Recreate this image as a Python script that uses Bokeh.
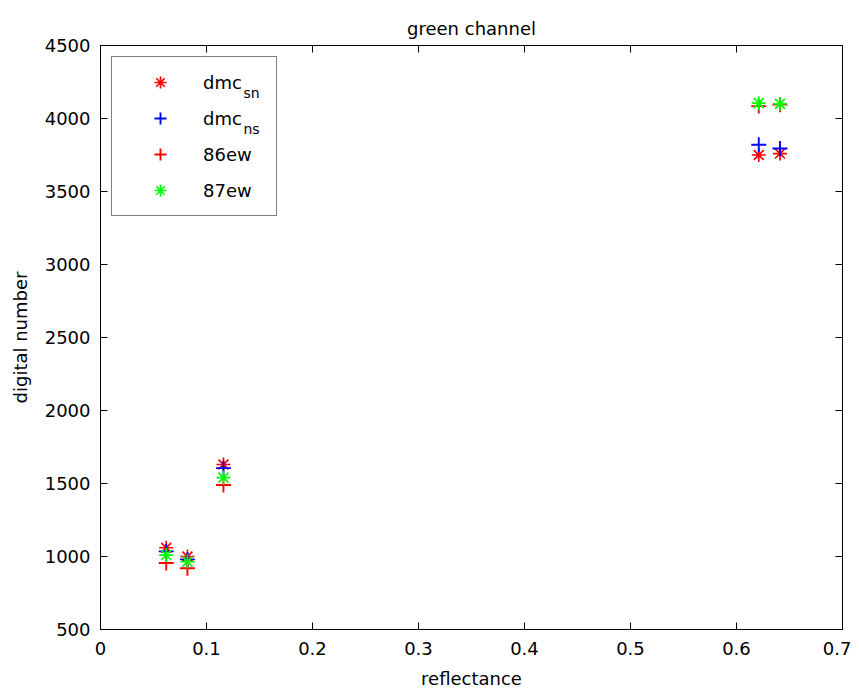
from bokeh.plotting import figure
from bokeh.models import FixedTicker, LinearAxis, Legend, LegendItem, Label, Range1d
from bokeh.embed import file_html
from bokeh.resources import INLINE

# data
reflectance = [0.062, 0.082, 0.116, 0.621, 0.641]
dmc_sn = [1060, 1000, 1630, 3750, 3760]
dmc_ns = [1035, 980, 1605, 3820, 3795]
ew86 = [955, 920, 1490, 4085, 4095]
ew87 = [1010, 965, 1540, 4105, 4100]

x_ticks = [0, 0.1, 0.2, 0.3, 0.4, 0.5, 0.6, 0.7]
y_ticks = [500, 1000, 1500, 2000, 2500, 3000, 3500, 4000, 4500]

FONT = "DejaVu Sans"

p = figure(width=851, height=691, output_backend="svg", toolbar_location=None,
           x_range=Range1d(0, 0.7), y_range=Range1d(500, 4500),
           min_border_left=100, min_border_right=9, min_border_top=45, min_border_bottom=61,
           title="green channel", x_axis_label="reflectance", y_axis_label="digital number")

p.title.align = "center"
p.title.vertical_align = "top"
p.title.text_font = FONT
p.title.text_font_size = "18px"
p.title.text_font_style = "normal"
p.title.text_color = "black"
p.title.standoff = 10

p.grid.visible = False
p.outline_line_color = "black"
p.outline_line_width = 1
p.background_fill_color = "white"
p.border_fill_color = "white"

for ax in (p.xaxis[0], p.yaxis[0]):
    ax.axis_line_color = "black"
    ax.major_tick_line_color = "black"
    ax.major_tick_in = 7
    ax.major_tick_out = 0
    ax.minor_tick_line_color = None
    ax.major_label_text_font = FONT
    ax.major_label_text_font_size = "18px"
    ax.major_label_text_color = "black"
    ax.axis_label_text_font = FONT
    ax.axis_label_text_font_size = "18px"
    ax.axis_label_text_font_style = "normal"
    ax.axis_label_text_color = "black"

p.xaxis[0].major_label_standoff = 12
p.xaxis[0].axis_label_standoff = 10
p.yaxis[0].major_label_standoff = 10
p.yaxis[0].axis_label_standoff = 11

p.xaxis[0].ticker = FixedTicker(ticks=x_ticks)
p.yaxis[0].ticker = FixedTicker(ticks=y_ticks)

top_ax = LinearAxis(ticker=FixedTicker(ticks=x_ticks), major_label_text_font_size="0px",
                    major_tick_in=7, major_tick_out=0, minor_tick_line_color=None,
                    major_label_standoff=0, axis_label_standoff=0,
                    axis_line_color="black", major_tick_line_color="black")
right_ax = LinearAxis(ticker=FixedTicker(ticks=y_ticks), major_label_text_font_size="0px",
                      major_tick_in=7, major_tick_out=0, minor_tick_line_color=None,
                      major_label_standoff=0, axis_label_standoff=0,
                      axis_line_color="black", major_tick_line_color="black")
top_ax.major_label_text_color = None
right_ax.major_label_text_color = None
p.add_layout(top_ax, "above")
p.add_layout(right_ax, "right")

r1 = p.scatter(reflectance, dmc_sn, marker="asterisk", size=14, line_color="#ff0000", line_width=1.7)
r2 = p.scatter(reflectance, dmc_ns, marker="cross", size=15, line_color="#0000ff", line_width=1.9)
r3 = p.scatter(reflectance, ew86, marker="cross", size=15, line_color="#ff0000", line_width=1.9)
r4 = p.scatter(reflectance, ew87, marker="asterisk", size=14, line_color="#00ff00", line_width=1.7)

legend = Legend(items=[LegendItem(label="dmc", renderers=[r1]),
                       LegendItem(label="dmc", renderers=[r2]),
                       LegendItem(label="86ew", renderers=[r3]),
                       LegendItem(label="87ew", renderers=[r4])],
                location="top_left", margin=11, padding=10, spacing=6,
                glyph_width=76, glyph_height=30, label_height=30, label_width=63,
                label_standoff=5, border_line_color="black", border_line_width=1,
                label_text_font=FONT, label_text_font_size="18px", label_text_color="black",
                background_fill_alpha=0.0)
p.add_layout(legend)

# subscripts of legend labels
sub_sn = Label(x=0.1349, y=4500 - (93 - 45) / 0.14625, text="sn", text_font=FONT,
               text_font_size="14px", text_baseline="middle", text_color="black")
sub_ns = Label(x=0.1349, y=4500 - (129 - 45) / 0.14625, text="ns", text_font=FONT,
               text_font_size="14px", text_baseline="middle", text_color="black")
p.add_layout(sub_sn)
p.add_layout(sub_ns)

open("out.html", "w").write(file_html(p, INLINE))
